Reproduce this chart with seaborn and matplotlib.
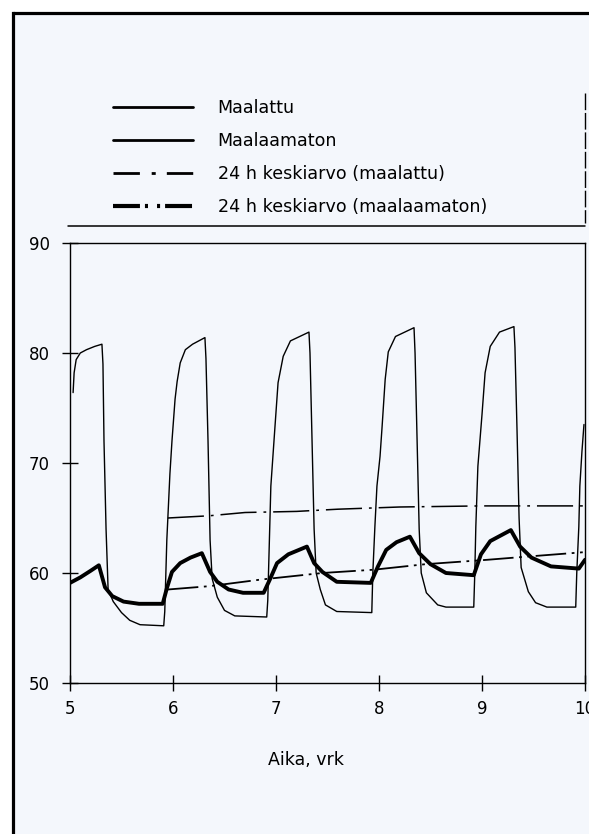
import matplotlib
matplotlib.use("Agg")
import matplotlib.pyplot as plt
from matplotlib.lines import Line2D
from matplotlib.patches import Rectangle
import pandas as pd
import seaborn as sns

# ---------------- data ----------------
painted_t = [5.03, 5.04, 5.06, 5.10, 5.16, 5.24, 5.31,
             5.32, 5.33, 5.35, 5.37, 5.42, 5.50, 5.58, 5.68, 5.91,
             5.92, 5.94, 5.97, 5.99, 6.02, 6.04, 6.07, 6.12, 6.19, 6.31,
             6.32, 6.34, 6.36, 6.38, 6.43, 6.50, 6.60, 6.91,
             6.92, 6.95, 6.99, 7.02, 7.07, 7.14, 7.32,
             7.33, 7.35, 7.37, 7.39, 7.43, 7.48, 7.59, 7.93,
             7.94, 7.96, 7.98, 8.01, 8.03, 8.06, 8.09, 8.16, 8.34,
             8.35, 8.37, 8.39, 8.41, 8.46, 8.57, 8.65, 8.92,
             8.93, 8.94, 8.96, 9.00, 9.03, 9.08, 9.17, 9.31,
             9.32, 9.34, 9.36, 9.38, 9.45, 9.52, 9.63, 9.91,
             9.92, 9.94, 9.95, 9.97, 9.99]
painted_v = [76.4, 78.2, 79.4, 80.0, 80.3, 80.6, 80.8,
             79.0, 72.0, 64.0, 58.5, 57.4, 56.4, 55.7, 55.3, 55.2,
             56.5, 63.0, 69.0, 72.0, 75.8, 77.4, 79.1, 80.3, 80.8, 81.4,
             79.5, 72.0, 63.0, 59.5, 57.8, 56.6, 56.1, 56.0,
             57.5, 67.9, 73.3, 77.3, 79.7, 81.1, 81.9,
             80.0, 72.0, 64.0, 60.0, 58.5, 57.1, 56.5, 56.4,
             60.0, 64.2, 67.9, 70.6, 73.3, 77.6, 80.1, 81.5, 82.3,
             80.0, 72.0, 64.0, 60.0, 58.2, 57.1, 56.9, 56.9,
             60.0, 64.2, 69.7, 74.4, 78.2, 80.6, 81.9, 82.4,
             80.5, 73.0, 65.0, 60.5, 58.3, 57.3, 56.9, 56.9,
             60.0, 64.2, 67.9, 71.0, 73.5]

unpainted_t = [5.00, 5.10, 5.20, 5.28,
               5.34, 5.41, 5.52, 5.67, 5.90,
               5.94, 5.99, 6.07, 6.17, 6.28,
               6.36, 6.43, 6.54, 6.68, 6.88,
               6.94, 7.01, 7.12, 7.30,
               7.37, 7.45, 7.59, 7.92,
               7.99, 8.07, 8.17, 8.30,
               8.39, 8.50, 8.65, 8.92,
               8.99, 9.08, 9.28,
               9.37, 9.48, 9.67, 9.94, 10.00]
unpainted_v = [59.1, 59.6, 60.2, 60.7,
               58.7, 57.9, 57.4, 57.2, 57.2,
               58.6, 60.1, 60.9, 61.4, 61.8,
               60.1, 59.2, 58.5, 58.2, 58.2,
               59.4, 60.9, 61.7, 62.4,
               60.9, 60.1, 59.2, 59.1,
               60.6, 62.1, 62.8, 63.3,
               61.8, 60.8, 60.0, 59.8,
               61.7, 62.9, 63.9,
               62.4, 61.4, 60.6, 60.4, 61.2]

avg_painted_t = [5.95, 6.35, 6.70, 7.20, 7.60, 8.20, 9.00, 10.00]
avg_painted_v = [65.0, 65.2, 65.5, 65.6, 65.8, 66.0, 66.1, 66.1]

avg_unpainted_t = [5.95, 6.35, 6.85, 7.45, 7.95, 8.45, 9.05, 9.45, 10.00]
avg_unpainted_v = [58.5, 58.8, 59.4, 60.0, 60.3, 60.8, 61.2, 61.5, 61.9]

series_labels = ["Maalattu", "Maalaamaton",
                 "24 h keskiarvo (maalattu)", "24 h keskiarvo (maalaamaton)"]
x_ticks = [5, 6, 7, 8, 9, 10]
y_ticks = [50, 60, 70, 80, 90]
x_label = "Aika, vrk"

# ---------------- style ----------------
sns.set_style("ticks")
plt.rcParams["font.family"] = ["DejaVu Sans"]
plt.rcParams["lines.scale_dashes"] = False
plt.rcParams["text.color"] = "black"
plt.rcParams["axes.labelcolor"] = "black"
plt.rcParams["xtick.color"] = "black"
plt.rcParams["ytick.color"] = "black"

W, H, DPI = 589, 834, 100
BG = "#f4f7fc"
fig = plt.figure(figsize=(W / DPI, H / DPI), dpi=DPI, facecolor=BG)
fig.patch.set_linewidth(0)

# white margin outside the frame (left and top), frame lines on left and top
fig.add_artist(Rectangle((0, 0), 13 / W, 1, transform=fig.transFigure,
                         facecolor="white", edgecolor="none", linewidth=0, zorder=0))
fig.add_artist(Rectangle((0, 1 - 13 / H), 1, 13 / H, transform=fig.transFigure,
                         facecolor="white", edgecolor="none", linewidth=0, zorder=0))
fig.add_artist(Line2D([13 / W, 13 / W], [0, 1 - 13 / H],
                      transform=fig.transFigure, color="black", linewidth=2.3,
                      solid_capstyle="projecting"))
fig.add_artist(Line2D([13 / W, 1.0], [1 - 13 / H, 1 - 13 / H],
                      transform=fig.transFigure, color="black", linewidth=2.3,
                      solid_capstyle="butt"))

ax = fig.add_axes([70 / W, 1 - 683 / H, 515 / W, 440 / H])
ax.set_facecolor("none")

df_p = pd.DataFrame({"t": painted_t, "v": painted_v})
df_u = pd.DataFrame({"t": unpainted_t, "v": unpainted_v})
df_ap = pd.DataFrame({"t": avg_painted_t, "v": avg_painted_v})
df_au = pd.DataFrame({"t": avg_unpainted_t, "v": avg_unpainted_v})

sns.lineplot(data=df_p, x="t", y="v", ax=ax, color="black", linewidth=1.0,
             estimator=None, sort=False)
sns.lineplot(data=df_u, x="t", y="v", ax=ax, color="black", linewidth=2.8,
             estimator=None, sort=False)
sns.lineplot(data=df_ap, x="t", y="v", ax=ax, color="black", linewidth=1.1,
             estimator=None, sort=False, linestyle=(0, (26, 5, 2, 5)))
sns.lineplot(data=df_au, x="t", y="v", ax=ax, color="black", linewidth=1.3,
             estimator=None, sort=False, linestyle=(0, (22, 4, 2, 4, 2, 4)))

ax.set_xlim(5, 10)
ax.set_ylim(50, 90)
ax.set_xticks(x_ticks)
ax.set_yticks(y_ticks)
ax.set_xticklabels([str(v) for v in x_ticks])
ax.set_yticklabels([str(v) for v in y_ticks])
ax.set_ylabel("")
ax.set_xlabel(x_label, fontsize=12.5, color="black")
ax.xaxis.set_label_coords((306 - 70) / 515, -(760 - 683) / 440)
ax.xaxis.label.set_va("center")

for s in ax.spines.values():
    s.set_visible(True)
    s.set_linewidth(1.0)
    s.set_color("black")
ax.tick_params(axis="both", direction="inout", length=11, width=1.0,
               labelsize=12, colors="black")
ax.tick_params(axis="x", pad=7)
ax.tick_params(axis="y", pad=9)

# ---------------- legend ----------------
handles = [
    Line2D([], [], color="black", linewidth=2.0),
    Line2D([], [], color="black", linewidth=2.0),
    Line2D([], [], color="black", linewidth=2.0, linestyle=(0, (19, 8.5, 2.9, 8))),
    Line2D([], [], color="black", linewidth=3.0,
           linestyle=(0, (19.4, 3.6, 2.2, 6.5, 2.2, 3.6))),
]
leg = fig.legend(handles, series_labels, loc="upper left",
                 bbox_to_anchor=(113 / W, 1 - 99 / H), bbox_transform=fig.transFigure,
                 frameon=False, fontsize=12.6, handlelength=4.55, handletextpad=1.43,
                 labelspacing=0.86, borderpad=0, borderaxespad=0)
for txt in leg.get_texts():
    txt.set_color("black")

# legend box decoration lines
fig.add_artist(Line2D([68 / W, 585 / W], [1 - 226 / H, 1 - 226 / H],
                      transform=fig.transFigure, color="black", linewidth=1.1))
fig.add_artist(Line2D([585 / W, 585 / W], [1 - 93 / H, 1 - 223 / H],
                      transform=fig.transFigure, color="black", linewidth=1.0,
                      linestyle=(0, (12, 2))))

fig.savefig("out.png", dpi=DPI, facecolor=BG)
